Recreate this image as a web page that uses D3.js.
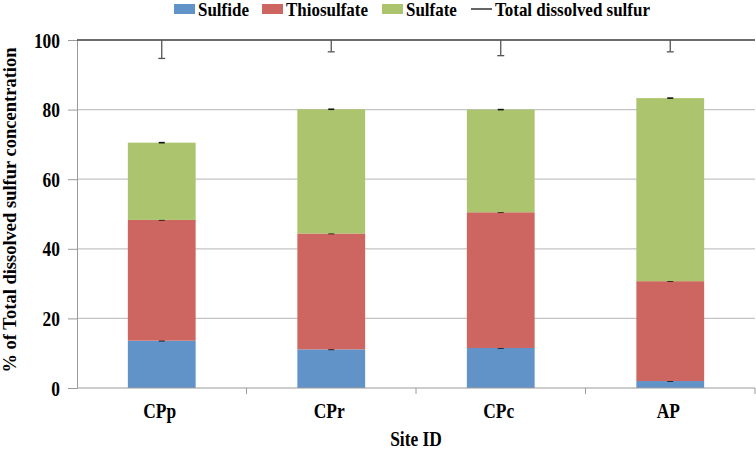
<!DOCTYPE html>
<html>
<head>
<meta charset="utf-8">
<script src="https://cdn.jsdelivr.net/npm/d3@7"></script>
<style>
  body { margin: 0; background: #fff; }
</style>
</head>
<body>
<svg id="chart" width="756" height="450"></svg>
<script>
// data
var sites = ["CPp", "CPr", "CPc", "AP"];
var sulfide = [13.6, 11.1, 11.5, 2.0];
var thiosulfate = [34.7, 33.3, 39.0, 28.7];
var sulfate = [22.2, 35.7, 29.5, 52.6];
var totalSulfur = [100, 100, 100, 100];
var totalErr = [5.3, 3.4, 4.5, 3.4];
var yTicks = [0, 20, 40, 60, 80, 100];

var seriesNames = ["Sulfide", "Thiosulfate", "Sulfate"];
var colors = ["#6193c9", "#cd6661", "#abc46d"];
var FONT = "'Liberation Serif', 'Times New Roman', Times, serif";

var margin = { top: 40, right: 1, bottom: 62, left: 77 },
    width = 756 - margin.left - margin.right,
    height = 450 - margin.top - margin.bottom;

var svg = d3.select("#chart");
var g = svg.append("g")
    .attr("transform", "translate(" + margin.left + "," + margin.top + ")");

// build rows for stacking
var rows = sites.map(function (s, i) {
    return { site: s, Sulfide: sulfide[i], Thiosulfate: thiosulfate[i], Sulfate: sulfate[i] };
});
var stacked = d3.stack().keys(seriesNames)(rows);

var x = d3.scaleBand().domain(sites).range([0, width]).paddingInner(0.6).paddingOuter(0.3);
var xEdge = d3.scaleBand().domain(sites).range([0, width]);
var y = d3.scaleLinear().domain([0, 100]).range([height, 0]);

// gridlines
g.append("g")
    .selectAll("line")
    .data(yTicks.filter(function (t) { return t > 0; }))
    .enter().append("line")
    .attr("x1", 0).attr("x2", width)
    .attr("y1", function (d) { return y(d); })
    .attr("y2", function (d) { return y(d); })
    .attr("stroke", "#c4c4c4")
    .attr("stroke-width", 1.2);

// y axis
var yAxis = g.append("g")
    .call(d3.axisLeft(y).tickValues(yTicks).tickSize(9).tickPadding(8).tickSizeOuter(0));
yAxis.select(".domain").attr("stroke", "#9a9a9a");
yAxis.selectAll(".tick line").attr("stroke", "#9a9a9a");
yAxis.selectAll("text").attr("class", "squeeze").style("font-size", "20px").attr("dy", "0.35em");

// bars
var layers = g.selectAll(".layer")
    .data(stacked)
    .enter().append("g")
    .attr("fill", function (d, i) { return colors[i]; });

layers.selectAll("rect")
    .data(function (d) { return d; })
    .enter().append("rect")
    .attr("x", function (d) { return x(d.data.site); })
    .attr("width", x.bandwidth())
    .attr("y", function (d) { return y(d[1]); })
    .attr("height", function (d) { return y(d[0]) - y(d[1]); });

// small error caps at top of each segment
layers.selectAll(".cap")
    .data(function (d) { return d; })
    .enter().append("line")
    .attr("x1", function (d) { return x(d.data.site) + x.bandwidth() / 2 - 3; })
    .attr("x2", function (d) { return x(d.data.site) + x.bandwidth() / 2 + 3; })
    .attr("y1", function (d) { return y(d[1]); })
    .attr("y2", function (d) { return y(d[1]); })
    .attr("stroke", "#111")
    .attr("stroke-width", 1.6);

// x axis
var xAxis = g.append("g")
    .attr("transform", "translate(0," + height + ")");
xAxis.append("line")
    .attr("x1", 0).attr("x2", width)
    .attr("stroke", "#9a9a9a");
xAxis.selectAll(".xt")
    .data(sites)
    .enter().append("line")
    .attr("x1", function (d) { return xEdge(d) + xEdge.bandwidth(); })
    .attr("x2", function (d) { return xEdge(d) + xEdge.bandwidth(); })
    .attr("y1", 0).attr("y2", 6)
    .attr("stroke", "#9a9a9a");
xAxis.selectAll(".xl")
    .data(sites)
    .enter().append("text")
    .attr("class", "squeeze")
    .attr("x", function (d) { return x(d) + x.bandwidth() / 2 - 2; })
    .attr("y", 30)
    .attr("text-anchor", "middle")
    .style("font-size", "20px")
    .text(function (d) { return d; });

// total dissolved sulfur line with minus error bars
g.append("line")
    .attr("x1", 0).attr("x2", width)
    .attr("y1", y(100)).attr("y2", y(100))
    .attr("stroke", "#444")
    .attr("stroke-width", 1.5);

var errs = g.selectAll(".err")
    .data(sites)
    .enter().append("g");
errs.append("line")
    .attr("x1", function (d) { return x(d) + x.bandwidth() / 2; })
    .attr("x2", function (d) { return x(d) + x.bandwidth() / 2; })
    .attr("y1", function (d, i) { return y(totalSulfur[i]); })
    .attr("y2", function (d, i) { return y(totalSulfur[i] - totalErr[i]); })
    .attr("stroke", "#555")
    .attr("stroke-width", 1.3);
errs.append("line")
    .attr("x1", function (d) { return x(d) + x.bandwidth() / 2 - 3.5; })
    .attr("x2", function (d) { return x(d) + x.bandwidth() / 2 + 3.5; })
    .attr("y1", function (d, i) { return y(totalSulfur[i] - totalErr[i]); })
    .attr("y2", function (d, i) { return y(totalSulfur[i] - totalErr[i]); })
    .attr("stroke", "#555")
    .attr("stroke-width", 1.3);

// axis titles
svg.append("text")
    .attr("class", "squeeze")
    .attr("x", margin.left + width / 2)
    .attr("y", 446)
    .attr("text-anchor", "middle")
    .style("font-size", "20px")
    .text("Site ID");

svg.append("text")
    .attr("transform", "translate(16," + 210 + ") rotate(-90)")
    .attr("text-anchor", "middle")
    .style("font-size", "18.5px")
    .text("% of Total dissolved sulfur concentration");

// legend
var legendX = [174, 262, 382];
var legend = svg.append("g");
seriesNames.forEach(function (name, i) {
    legend.append("rect")
        .attr("x", legendX[i]).attr("y", 4)
        .attr("width", 21).attr("height", 10)
        .attr("fill", colors[i]);
    legend.append("text")
        .attr("class", "squeeze")
        .attr("x", legendX[i] + 24).attr("y", 16)
        .style("font-size", "19.5px")
        .text(name);
});
legend.append("line")
    .attr("x1", 471).attr("x2", 492)
    .attr("y1", 9).attr("y2", 9)
    .attr("stroke", "#333").attr("stroke-width", 1.5);
legend.append("text")
    .attr("class", "squeeze")
    .attr("x", 495).attr("y", 16)
    .style("font-size", "19.5px")
    .text("Total dissolved sulfur");

// serif bold everywhere
svg.selectAll("text")
    .style("font-family", FONT)
    .style("font-weight", "bold")
    .style("fill", "#000");

// the source text is narrow and tall: squeeze glyphs horizontally
svg.selectAll("text.squeeze").each(function () {
    var w = this.getComputedTextLength();
    d3.select(this)
        .attr("textLength", w * 0.87)
        .attr("lengthAdjust", "spacingAndGlyphs");
});
</script>
</body>
</html>
